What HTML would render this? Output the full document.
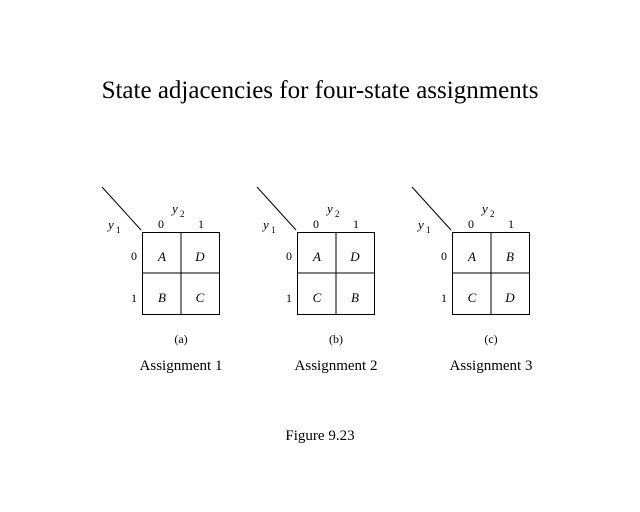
<!DOCTYPE html>
<html><head><style>
body{margin:0;background:#fff;}
svg{display:block;font-family:"Liberation Serif",serif;}
</style></head><body>
<svg width="640" height="512" viewBox="0 0 640 512">
<text x="320" y="98" font-size="25" text-anchor="middle">State adjacencies for four-state assignments</text>
<g id="g1" transform="translate(0,0)">
<line x1="102" y1="187" x2="141" y2="230" stroke="#000"/>
<rect x="142.5" y="232.5" width="77" height="82" fill="none" stroke="#000"/>
<line x1="181" y1="232" x2="181" y2="315" stroke="#000"/>
<line x1="142" y1="273" x2="220" y2="273" stroke="#000"/>
<text x="172" y="213" font-size="13" font-style="italic">y</text><text x="180" y="217" font-size="9">2</text>
<text x="108" y="229" font-size="13" font-style="italic">y</text><text x="116" y="233" font-size="9">1</text>
<text x="161" y="228" font-size="12" text-anchor="middle">0</text>
<text x="201" y="228" font-size="12" text-anchor="middle">1</text>
<text x="134" y="260" font-size="12" text-anchor="middle">0</text>
<text x="134" y="302" font-size="12" text-anchor="middle">1</text>
<text x="162" y="261" font-size="13" font-style="italic" text-anchor="middle">A</text>
<text x="200" y="261" font-size="13" font-style="italic" text-anchor="middle">D</text>
<text x="162" y="302" font-size="13" font-style="italic" text-anchor="middle">B</text>
<text x="200" y="302" font-size="13" font-style="italic" text-anchor="middle">C</text>
<text x="181" y="343" font-size="12" text-anchor="middle">(a)</text>
<text x="181" y="370" font-size="15" text-anchor="middle">Assignment 1</text>
</g>
<g transform="translate(155,0)">
<line x1="102" y1="187" x2="141" y2="230" stroke="#000"/>
<rect x="142.5" y="232.5" width="77" height="82" fill="none" stroke="#000"/>
<line x1="181" y1="232" x2="181" y2="315" stroke="#000"/>
<line x1="142" y1="273" x2="220" y2="273" stroke="#000"/>
<text x="172" y="213" font-size="13" font-style="italic">y</text><text x="180" y="217" font-size="9">2</text>
<text x="108" y="229" font-size="13" font-style="italic">y</text><text x="116" y="233" font-size="9">1</text>
<text x="161" y="228" font-size="12" text-anchor="middle">0</text>
<text x="201" y="228" font-size="12" text-anchor="middle">1</text>
<text x="134" y="260" font-size="12" text-anchor="middle">0</text>
<text x="134" y="302" font-size="12" text-anchor="middle">1</text>
<text x="162" y="261" font-size="13" font-style="italic" text-anchor="middle">A</text>
<text x="200" y="261" font-size="13" font-style="italic" text-anchor="middle">D</text>
<text x="162" y="302" font-size="13" font-style="italic" text-anchor="middle">C</text>
<text x="200" y="302" font-size="13" font-style="italic" text-anchor="middle">B</text>
<text x="181" y="343" font-size="12" text-anchor="middle">(b)</text>
<text x="181" y="370" font-size="15" text-anchor="middle">Assignment 2</text>
</g>
<g transform="translate(310,0)">
<line x1="102" y1="187" x2="141" y2="230" stroke="#000"/>
<rect x="142.5" y="232.5" width="77" height="82" fill="none" stroke="#000"/>
<line x1="181" y1="232" x2="181" y2="315" stroke="#000"/>
<line x1="142" y1="273" x2="220" y2="273" stroke="#000"/>
<text x="172" y="213" font-size="13" font-style="italic">y</text><text x="180" y="217" font-size="9">2</text>
<text x="108" y="229" font-size="13" font-style="italic">y</text><text x="116" y="233" font-size="9">1</text>
<text x="161" y="228" font-size="12" text-anchor="middle">0</text>
<text x="201" y="228" font-size="12" text-anchor="middle">1</text>
<text x="134" y="260" font-size="12" text-anchor="middle">0</text>
<text x="134" y="302" font-size="12" text-anchor="middle">1</text>
<text x="162" y="261" font-size="13" font-style="italic" text-anchor="middle">A</text>
<text x="200" y="261" font-size="13" font-style="italic" text-anchor="middle">B</text>
<text x="162" y="302" font-size="13" font-style="italic" text-anchor="middle">C</text>
<text x="200" y="302" font-size="13" font-style="italic" text-anchor="middle">D</text>
<text x="181" y="343" font-size="12" text-anchor="middle">(c)</text>
<text x="181" y="370" font-size="15" text-anchor="middle">Assignment 3</text>
</g>
<text x="320" y="440" font-size="15" text-anchor="middle">Figure 9.23</text>
</svg>
</body></html>
